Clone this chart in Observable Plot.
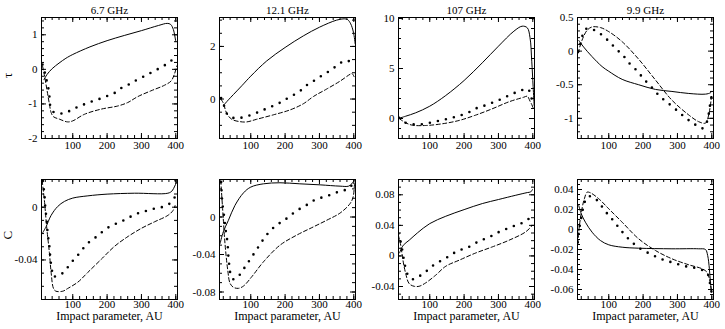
<!DOCTYPE html>
<html><head><meta charset="utf-8">
<script src="https://cdn.jsdelivr.net/npm/d3@7"></script>
<script src="https://cdn.jsdelivr.net/npm/@observablehq/plot@0.6"></script>
<style>
body{margin:0;background:#fff;}
#chart{position:relative;width:725px;height:329px;font-family:"Liberation Serif",serif;}
#chart svg{position:absolute;}
#chart svg text{font-family:"Liberation Serif",serif;}
</style></head><body><div id="chart"></div>
<script>
// ---- labels ----
const panelTitles = ["6.7 GHz", "12.1 GHz", "107 GHz", "9.9 GHz"];
const rowLabels = ["τ", "C"];
const xLabel = "Impact parameter, AU";
const xDomain = [9, 405];
const xMajor = [100, 200, 300, 400];
const xMinorStep = 20;

// y axis: domains, major tick labels, minor step
const yDomains = [[-2, 1.5], [-1.5, 3.1], [-2, 10.1], [-1.3, 0.5], [-0.07, 0.021], [-0.088, 0.04], [-0.057, 0.1], [-0.07, 0.05]];
const yMajorTicks = [[-2, -1, 0, 1], [0, 2], [0, 5, 10], [-1, -0.5, 0, 0.5], [-0.04, 0], [-0.08, -0.04, 0], [-0.04, 0, 0.04, 0.08], [-0.06, -0.04, -0.02, 0, 0.02, 0.04]];
const yMinorSteps = [0.2, 0.5, 1, 0.1, 0.01, 0.01, 0.01, 0.005];

// ---- series: [impact parameter, value] ----
const tau67Solid = [[16,-0.3],[25,-0.15],[40,0.02],[60,0.18],[80,0.32],[100,0.43],[150,0.65],[200,0.83],[250,0.98],[300,1.12],[350,1.27],[375,1.33],[385,1.3],[393,1.15],[400,0.8]];
const tau67Dotted = [[12,0.14],[20,-0.14],[25,-0.37],[30,-0.6],[33,-0.88],[36,-1.13],[45,-1.24],[51,-1.26],[76,-1.27],[100,-1.15],[122,-1.06],[146,-0.96],[171,-0.88],[195,-0.79],[219,-0.7],[243,-0.53],[265,-0.43],[289,-0.29],[314,-0.17],[336,-0.05],[360,0.07],[381,0.21],[403,0.37]];
const tau67Dashed = [[12,0.1],[18,-0.2],[25,-0.6],[32,-1.0],[37,-1.25],[44,-1.37],[61,-1.44],[85,-1.52],[100,-1.49],[134,-1.3],[183,-1.15],[231,-1.06],[260,-0.96],[289,-0.79],[328,-0.62],[367,-0.46],[386,-0.34],[396,-0.14],[403,0.1]];

const tau121Solid = [[22,-0.22],[35,-0.03],[49.5,0.17],[75,0.52],[100,0.87],[146.6,1.45],[200,1.96],[253,2.4],[300,2.73],[350,3.0],[372,3.05],[382,3.02],[391,2.86],[399,2.54],[404,2.1]];
const tau121Dotted = [[13.6,0.04],[23,-0.28],[33,-0.6],[54,-0.73],[79,-0.69],[106,-0.58],[130,-0.45],[154,-0.32],[179,-0.18],[203,0],[227,0.17],[249,0.36],[268,0.58],[290,0.74],[312,0.94],[334,1.1],[355,1.32],[378,1.47],[397,1.35]];
const tau121Dashed = [[13,0.0],[20,-0.15],[30,-0.54],[44.6,-0.77],[69,-0.86],[88,-0.87],[117,-0.77],[166,-0.6],[215,-0.41],[253,-0.18],[283,0.1],[321,0.38],[360,0.68],[389,0.94],[395,0.97],[401,0.85]];

const tau107Solid = [[9,0],[30,0.23],[59,0.57],[100,1.23],[146.6,2.3],[200,3.8],[253,5.57],[300,7.23],[345,8.73],[369,9.23],[384,9.07],[392,8.07],[397,5.73],[401,3.2],[404,1.3]];
const tau107Dotted = [[10.7,0.07],[30,-0.43],[59,-0.6],[86,-0.53],[112.6,-0.33],[139,-0.13],[164,0.07],[188,0.3],[214.6,0.63],[239,1.07],[263,1.33],[288,1.67],[312,2],[336,2.4],[361,2.73],[385,2.97],[396,2.07],[401,1.2]];
const tau107Dashed = [[10.7,0],[30,-0.43],[49.5,-0.67],[88,-0.7],[136,-0.53],[185,-0.2],[233,0.33],[282,0.97],[330.6,1.67],[374,2.13],[384,2.23],[392,1.73],[397,1.4],[401,1.07]];

const tau99Solid = [[12.6,0.16],[27,0.06],[51,-0.08],[80.6,-0.23],[100,-0.3],[139,-0.42],[187,-0.5],[236,-0.57],[284,-0.6],[333,-0.63],[381.6,-0.64],[396,-0.62],[400,-0.6]];
const tau99Dotted = [[10.7,-0.01],[17.5,0.11],[25,0.25],[37,0.34],[63,0.3],[85,0.22],[105,0.12],[124,0.02],[141,-0.06],[158,-0.17],[178,-0.27],[195,-0.37],[212,-0.47],[231,-0.57],[248,-0.67],[267,-0.75],[289,-0.84],[309,-0.93],[328,-1.01],[348,-1.08],[372,-1.15],[386,-1.05],[394,-0.83],[399,-0.68]];
const tau99Dashed = [[10.7,-0.03],[22,0.16],[37,0.31],[51.5,0.36],[76,0.35],[100,0.29],[139,0.14],[187,-0.12],[236,-0.43],[284,-0.73],[333,-0.95],[362,-1.05],[381.6,-1.07],[391,-0.95],[399,-0.68]];

const c67Solid = [[12.6,-0.0193],[22.3,-0.0148],[37,-0.0062],[56,0.0005],[76,0.0044],[100,0.0069],[144,0.0086],[200,0.0099],[280,0.0106],[377,0.0106],[389,0.0123],[397,0.016],[404,0.0198]];
const c67Dotted = [[12.6,0.0198],[17.5,0.0099],[20,0],[24,-0.0099],[27,-0.0198],[32,-0.0296],[35,-0.0395],[39,-0.047],[44,-0.053],[56,-0.051],[71,-0.05],[85,-0.0457],[100,-0.0407],[115,-0.0363],[134,-0.0301],[153,-0.0252],[173,-0.0217],[192,-0.0173],[216,-0.0136],[240,-0.0111],[263,-0.0079],[287,-0.0049],[311,-0.003],[335,-0.0012],[359,0],[381,0.0025],[398,0.0079]];
const c67Dashed = [[11,0.02],[17.5,0.0049],[24,-0.0148],[32,-0.0346],[37,-0.0494],[44,-0.0617],[51,-0.0637],[71,-0.0637],[85,-0.0617],[115,-0.0568],[144,-0.0494],[183,-0.0395],[222,-0.0296],[261,-0.0222],[300,-0.016],[338,-0.0111],[377,-0.0062],[392,-0.0025],[398,0.0012]];

const c121Solid = [[10.7,-0.0283],[20,-0.0159],[35,-0.0035],[54,0.0124],[79,0.0258],[100,0.0319],[137,0.0354],[185,0.0365],[243,0.0354],[302,0.0343],[360,0.0329],[385,0.0329],[394,0.0354],[401,0.039]];
const c121Dotted = [[13.6,0.0372],[15.5,0.0248],[17.5,0.0142],[22,0.0018],[27,-0.0142],[32,-0.0265],[35,-0.0425],[38,-0.0531],[42,-0.062],[50,-0.0665],[67,-0.062],[83.5,-0.0531],[98,-0.0453],[116,-0.0354],[135,-0.0248],[156,-0.0149],[179,-0.0078],[200,-0.0028],[222,0.0035],[243,0.0088],[266,0.0135],[287,0.0184],[311,0.0212],[336,0.0241],[360,0.0276],[385,0.0301],[399,0.0372]];
const c121Dashed = [[12.6,0.039],[18.4,0.0071],[25,-0.0283],[33,-0.0566],[39.8,-0.0708],[49.5,-0.075],[64,-0.0761],[79,-0.0736],[103,-0.0637],[137,-0.0478],[185,-0.0301],[233,-0.0195],[282,-0.0106],[321,-0.0035],[360,0.0042],[389,0.0142],[398,0.0212],[402,0.0354]];

const c107Solid = [[12,0.004],[23,0.014],[40,0.0205],[64,0.0301],[100,0.0423],[146.6,0.0519],[200,0.0606],[253,0.0685],[300,0.0738],[350.5,0.0794],[384,0.0829],[394,0.0838],[399,0.0868]];
const c107Dotted = [[8.7,0.0292],[15.5,0.0183],[20,0.0074],[25,-0.0057],[30,-0.0166],[37,-0.0253],[51.5,-0.0305],[74,-0.0253],[96,-0.0179],[117,-0.01],[142,-0.0044],[164,0.0022],[187,0.0074],[210,0.0109],[234,0.017],[255,0.0214],[278,0.0257],[302,0.0314],[326,0.0358],[350.5,0.0401],[375,0.0445],[397,0.0519]];
const c107Dashed = [[8.7,0.027],[15.5,0.014],[22,-0.0057],[30,-0.0231],[40,-0.0362],[54.4,-0.0397],[69,-0.0397],[88,-0.0353],[117,-0.0253],[146.6,-0.0135],[185,-0.0057],[234,0.0039],[282,0.0118],[330.6,0.0205],[379,0.0314],[399,0.0401]];

const c99Solid = [[12.6,0.024],[20,0.0157],[32,0.0073],[51.5,-0.0027],[75.7,-0.011],[100,-0.0153],[139,-0.0177],[187,-0.0187],[284,-0.0193],[362,-0.0193],[381.6,-0.02],[388,-0.026],[393,-0.0393],[396,-0.0527],[399,-0.0627]];
const c99Dotted = [[9.7,-0.0127],[12.6,-0.0027],[17.5,0.0073],[22,0.0157],[29,0.0263],[37,0.0323],[51.5,0.033],[71,0.0273],[88,0.019],[105,0.0123],[120.6,0.0057],[136,-0.001],[153,-0.0077],[173,-0.0143],[192,-0.0193],[216.5,-0.0237],[241,-0.0277],[265,-0.031],[289,-0.0333],[313.6,-0.036],[338,-0.0377],[362,-0.0393],[386,-0.0433],[393,-0.051],[399,-0.062]];
const c99Dashed = [[9.7,-0.0143],[14.6,0.004],[22,0.0207],[29,0.0307],[37,0.0373],[46.6,0.0367],[71,0.0307],[100,0.0207],[139,0.0073],[187,-0.0093],[236,-0.021],[284,-0.0293],[333,-0.0353],[372,-0.0393],[386,-0.0427],[393,-0.0493],[399,-0.061]];

const panelSeries = [
  [tau67Solid, tau67Dotted, tau67Dashed],
  [tau121Solid, tau121Dotted, tau121Dashed],
  [tau107Solid, tau107Dotted, tau107Dashed],
  [tau99Solid, tau99Dotted, tau99Dashed],
  [c67Solid, c67Dotted, c67Dashed],
  [c121Solid, c121Dotted, c121Dashed],
  [c107Solid, c107Dotted, c107Dashed],
  [c99Solid, c99Dotted, c99Dashed]
];

// ---- layout ----
const frameLefts = [41, 219, 398, 577];
const frameW = 136, mL = 41, mR = 4;
const rows = [
  {top: 0, mT: 17, innerH: 121, mB: 25, pad: 3},
  {top: 162, mT: 17, innerH: 120, mB: 30, pad: 1}
];
const fmt = d => String(d);
function minorTicks(domain, step) {
  const out = [];
  const start = Math.ceil(domain[0] / step - 1e-9), end = Math.floor(domain[1] / step + 1e-9);
  for (let i = start; i <= end; i++) out.push(+(i * step).toFixed(6));
  return out;
}
const styles = [
  {strokeWidth: 1},
  {strokeWidth: 2.6, strokeDasharray: "0,8.2", strokeLinecap: "round"},
  {strokeWidth: 1, strokeDasharray: "4,2.5"}
];

const chart = document.getElementById("chart");
for (let p = 0; p < 8; p++) {
  const r = p < 4 ? 0 : 1, c = p % 4;
  const R = rows[r];
  const yDom = yDomains[p];
  const xMin = minorTicks(xDomain, xMinorStep);
  const yMin = minorTicks(yDom, yMinorSteps[p]);
  const yMaj = yMajorTicks[p];
  const marks = [];
  const tickMarks = (xs, ys, len) => [
    Plot.tickX(xs, {x: d => d, insetTop: R.innerH - len, stroke: "black"}),
    Plot.tickX(xs, {x: d => d, insetBottom: R.innerH - len, stroke: "black"}),
    Plot.tickY(ys, {y: d => d, insetRight: frameW - len, stroke: "black"}),
    Plot.tickY(ys, {y: d => d, insetLeft: frameW - len, stroke: "black"})
  ];
  marks.push(...tickMarks(xMin, yMin, 3));
  marks.push(...tickMarks(xMajor, yMaj, 5));
  panelSeries[p].forEach((s, k) => {
    marks.push(Plot.line(s, {x: d => d[0], y: d => d[1], stroke: "black", curve: "catmull-rom", clip: true, ...styles[k]}));
  });
  marks.push(Plot.frame({stroke: "black", strokeWidth: 1}));
  marks.push(Plot.axisX(xMajor, {tickSize: 0, tickPadding: R.pad, tickFormat: fmt, label: null, fontSize: 11}));
  marks.push(Plot.axisY(yMaj, {tickSize: 0, tickPadding: 4, tickFormat: fmt, label: null, fontSize: 11}));
  if (r === 0) marks.push(Plot.text([panelTitles[c]], {frameAnchor: "top", lineAnchor: "bottom", dy: -4, fontSize: 11}));
  if (r === 1) marks.push(Plot.text([xLabel], {frameAnchor: "bottom", lineAnchor: "top", dy: 12, fontSize: 12}));
  if (c === 0) marks.push(Plot.text([rowLabels[r]], {frameAnchor: "left", dx: -34, rotate: -90, fontSize: 13}));
  const svg = Plot.plot({
    width: mL + frameW + mR,
    height: R.mT + R.innerH + R.mB,
    marginLeft: mL, marginRight: mR, marginTop: R.mT, marginBottom: R.mB,
    x: {domain: xDomain},
    y: {domain: yDom},
    style: "font-family: 'Liberation Serif', serif; font-size: 11px; background: transparent; overflow: visible; color: black;",
    marks
  });
  svg.style.left = (frameLefts[c] - mL) + "px";
  svg.style.top = R.top + "px";
  chart.appendChild(svg);
}
</script></body></html>
